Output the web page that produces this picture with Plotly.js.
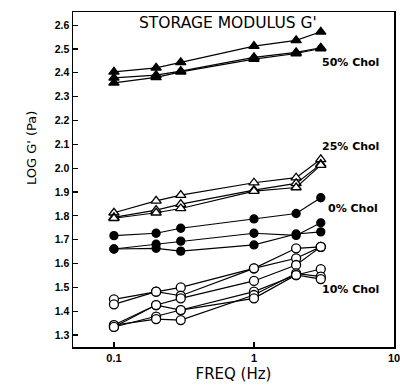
<!DOCTYPE html>
<html><head><meta charset="utf-8">
<script src="https://cdn.plot.ly/plotly-3.0.1.min.js"></script>
<style>html,body{margin:0;padding:0;background:#fff}#chart{width:400px;height:390px}</style>
</head><body><div id="chart"></div>
<script>
const freq = [0.1, 0.2, 0.3, 1, 2, 3];

// 50% Chol (filled triangles)
const chol50_a = [2.404, 2.421, 2.444, 2.512, 2.536, 2.572];
const chol50_b = [2.379, 2.390, 2.407, 2.465, 2.486, 2.505];
const chol50_c = [2.358, 2.381, 2.404, 2.457, 2.481, 2.502];

// 25% Chol (open triangles)
const chol25_a = [1.813, 1.863, 1.887, 1.939, 1.960, 2.037];
const chol25_b = [1.794, 1.824, 1.849, 1.908, 1.936, 2.017];
const chol25_c = [1.790, 1.813, 1.831, 1.904, 1.919, 2.013];

// 0% Chol (filled circles)
const chol0_a = [1.717, 1.727, 1.748, 1.787, 1.810, 1.876];
const chol0_b = [1.661, 1.681, 1.694, 1.727, 1.718, 1.771];
const chol0_c = [1.661, 1.664, 1.652, 1.678, 1.724, 1.733];

// 10% Chol (open circles)
const chol10_a = [1.450, 1.482, 1.500, 1.580, 1.664, 1.670];
const chol10_b = [1.429, 1.482, 1.465, 1.580, 1.622, 1.670];
const chol10_c = [1.342, 1.426, 1.454, 1.527, 1.594, 1.670];
const chol10_d = [1.334, 1.377, 1.405, 1.482, 1.552, 1.577];
const chol10_e = [1.342, 1.367, 1.363, 1.468, 1.559, 1.545];
const chol10_f = [1.334, 1.426, 1.405, 1.454, 1.552, 1.535];

const yTicks = [1.3,1.4,1.5,1.6,1.7,1.8,1.9,2.0,2.1,2.2,2.3,2.4,2.5,2.6];
const xTicks = [0.1, 1, 10];
const xTickText = ["0.1", "1", "10"];

const groupLabels = ["50% Chol", "25% Chol", "0% Chol", "10% Chol"];

function tr(y, sym, fill, size) {
  return {
    x: freq, y: y, type: 'scatter', mode: 'lines+markers',
    line: {color: '#000', width: 1.2},
    marker: {symbol: sym, size: size, color: fill, line: {color: '#000', width: 1.3}},
    showlegend: false, hoverinfo: 'skip'
  };
}

const data = [
  tr(chol10_a, 'circle', '#fff', 9),
  tr(chol10_b, 'circle', '#fff', 9),
  tr(chol10_c, 'circle', '#fff', 9),
  tr(chol10_d, 'circle', '#fff', 9),
  tr(chol10_e, 'circle', '#fff', 9),
  tr(chol10_f, 'circle', '#fff', 9),
  tr(chol0_a, 'circle', '#000', 8),
  tr(chol0_b, 'circle', '#000', 8),
  tr(chol0_c, 'circle', '#000', 8),
  tr(chol25_a, 'triangle-up', '#fff', 9),
  tr(chol25_b, 'triangle-up', '#fff', 9),
  tr(chol25_c, 'triangle-up', '#fff', 9),
  tr(chol50_a, 'triangle-up', '#000', 9),
  tr(chol50_b, 'triangle-up', '#000', 9),
  tr(chol50_c, 'triangle-up', '#000', 9)
];

const fnt = 'Liberation Sans, Arial, sans-serif';
const wide = 'DejaVu Sans, sans-serif';
const lblFont = {family: wide, size: 11, color: '#000', weight: 'bold'};

const layout = {
  width: 400, height: 390,
  margin: {l: 73, r: 6, t: 12, b: 43},
  paper_bgcolor: '#fff', plot_bgcolor: '#fff',
  font: {family: fnt, color: '#000'},
  showlegend: false,
  xaxis: {
    type: 'log', range: [Math.log10(0.051), 1.0],
    tickvals: xTicks, ticktext: xTickText,
    ticks: 'inside', ticklen: 5, tickwidth: 1.2, tickcolor: '#000',
    showline: true, linecolor: '#000', linewidth: 1.5, mirror: true,
    showgrid: false, zeroline: false,
    ticklabeloverflow: 'allow',
    tickfont: {family: fnt, size: 11, weight: 'bold'},
    title: {text: 'FREQ (Hz)', font: {family: wide, size: 15}, standoff: 6}
  },
  yaxis: {
    range: [1.25, 2.655],
    tickvals: yTicks, tickformat: '.1f',
    ticks: 'inside', ticklen: 5, tickwidth: 1.2, tickcolor: '#000',
    showline: true, linecolor: '#000', linewidth: 1.5, mirror: true,
    showgrid: false, zeroline: false,
    tickfont: {family: fnt, size: 10.5, weight: 'bold'}
  },
  annotations: [
    {text: "STORAGE MODULUS G'", xref: 'paper', yref: 'paper', x: 0.483, y: 0.967,
     showarrow: false, font: {family: wide, size: 15.5}, xanchor: 'center', yanchor: 'middle'},
    {text: groupLabels[0], xref: 'x', yref: 'y', x: Math.log10(2.95), y: 2.445, xanchor: 'left', showarrow: false, font: lblFont},
    {text: groupLabels[1], xref: 'x', yref: 'y', x: Math.log10(2.95), y: 2.090, xanchor: 'left', showarrow: false, font: lblFont},
    {text: groupLabels[2], xref: 'x', yref: 'y', x: Math.log10(3.25), y: 1.830, xanchor: 'left', showarrow: false, font: lblFont},
    {text: groupLabels[3], xref: 'x', yref: 'y', x: Math.log10(2.95), y: 1.490, xanchor: 'left', showarrow: false, font: lblFont},
    {text: "LOG G' (Pa)", xref: 'paper', yref: 'paper', x: -0.131, y: 0.594, textangle: -90,
     showarrow: false, font: {family: wide, size: 13}, xanchor: 'center', yanchor: 'middle'}
  ]
};

Plotly.newPlot('chart', data, layout, {staticPlot: true, displayModeBar: false});
</script></body></html>
